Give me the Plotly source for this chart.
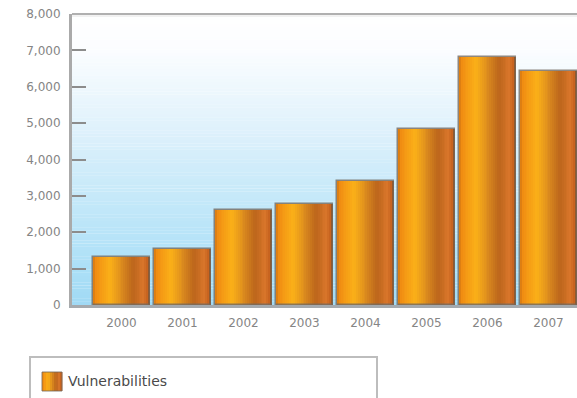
import plotly.graph_objects as go

# Data
years = ["2000", "2001", "2002", "2003", "2004", "2005", "2006", "2007"]
vulnerabilities = [1330, 1540, 2610, 2775, 3410, 4835, 6820, 6440]
y_ticks = [0, 1000, 2000, 3000, 4000, 5000, 6000, 7000, 8000]
y_tick_labels = ["0", "1,000", "2,000", "3,000", "4,000", "5,000", "6,000", "7,000", "8,000"]
series_name = "Vulnerabilities"

# Canvas / plot-area geometry (pixels)
W, H = 577, 398
PL, PR, PT, PB = 72, 577, 14, 305


def hex_rgb(h):
    h = h.lstrip("#")
    return tuple(int(h[i:i + 2], 16) for i in (0, 2, 4))


def lerp_color(stops, t):
    for (t0, c0), (t1, c1) in zip(stops, stops[1:]):
        if t0 <= t <= t1:
            f = 0 if t1 == t0 else (t - t0) / (t1 - t0)
            a, b = hex_rgb(c0), hex_rgb(c1)
            r = [round(a[i] + (b[i] - a[i]) * f) for i in range(3)]
            return "rgb(%d,%d,%d)" % tuple(r)
    return stops[-1][1]


# Horizontal metallic-orange gradient for the bars
bar_stops = [
    (0.00, "#d27612"), (0.04, "#f08c12"), (0.30, "#fbb018"),
    (0.50, "#dc8c1e"), (0.70, "#bc661c"), (0.88, "#d9762a"),
    (0.95, "#c86420"), (1.00, "#8a4610"),
]
# Vertical sky gradient for the plot background
bg_stops = [
    (0.0, "#a0d9f4"), (0.125, "#ace0f7"), (0.25, "#b9e4f8"), (0.375, "#c6e9f9"),
    (0.5, "#d3edfa"), (0.625, "#e1f2fc"), (0.75, "#eef8fd"), (0.875, "#fbfdff"),
    (1.0, "#ffffff"),
]

BAR_W = 0.935
N_STRIPS = 30
fig = go.Figure()
for i in range(N_STRIPS):
    t = (i + 0.5) / N_STRIPS
    fig.add_trace(go.Bar(
        x=years, y=vulnerabilities,
        width=[BAR_W / N_STRIPS + 0.002] * len(years),
        offset=[-BAR_W / 2 + i * BAR_W / N_STRIPS] * len(years),
        marker=dict(color=lerp_color(bar_stops, t), line=dict(width=0)),
        showlegend=False, hoverinfo="skip",
    ))
# Outline of each bar
fig.add_trace(go.Bar(
    x=years, y=vulnerabilities, width=[BAR_W] * len(years),
    marker=dict(color="rgba(0,0,0,0)", line=dict(color="rgba(115,105,95,0.8)", width=1.5)),
    name=series_name, showlegend=False,
))


def px_x(p):
    return (p - PL) / (PR - PL)


def px_y(p):
    return (PB - p) / (PB - PT)


shapes = []
# Background gradient strips
N_BG = 90
for i in range(N_BG):
    y0 = 8000 * i / N_BG
    y1 = 8000 * (i + 1) / N_BG
    shapes.append(dict(type="rect", xref="paper", yref="y", x0=0, x1=1, y0=y0, y1=y1 + 5,
                       fillcolor=lerp_color(bg_stops, (i + 0.5) / N_BG),
                       line=dict(width=0), layer="below"))
# Top frame line
shapes.append(dict(type="line", xref="paper", yref="paper", x0=0, x1=1, y0=1, y1=1,
                   line=dict(color="#b0b0b0", width=2)))
shapes.append(dict(type="line", xref="paper", yref="paper", x0=0, x1=1,
                   y0=px_y(PT + 2), y1=px_y(PT + 2), line=dict(color="#e4e4e4", width=1)))
# Legend box
shapes.append(dict(type="rect", xref="paper", yref="paper",
                   x0=px_x(30), x1=px_x(377), y0=px_y(357), y1=px_y(420),
                   fillcolor="white", line=dict(color="#bdbdbd", width=2)))
# Legend swatch
SW_L, SW_R, SW_T, SW_B = 42, 62, 372, 391
n_sw = 10
for i in range(n_sw):
    shapes.append(dict(type="rect", xref="paper", yref="paper",
                       x0=px_x(SW_L + (SW_R - SW_L) * i / n_sw),
                       x1=px_x(SW_L + (SW_R - SW_L) * (i + 1) / n_sw + 0.3),
                       y0=px_y(SW_B), y1=px_y(SW_T),
                       fillcolor=lerp_color(bar_stops, (i + 0.5) / n_sw), line=dict(width=0)))
shapes.append(dict(type="rect", xref="paper", yref="paper",
                   x0=px_x(SW_L), x1=px_x(SW_R), y0=px_y(SW_B), y1=px_y(SW_T),
                   line=dict(color="rgba(110,100,90,0.8)", width=1)))

annotations = [dict(
    text=series_name, xref="paper", yref="paper", x=px_x(66), y=px_y(381),
    xanchor="left", yanchor="middle", showarrow=False,
    font=dict(family="DejaVu Sans", size=14, color="#4a4a4a"),
)]

slot = 61.0
x_lo = -(121.4 - PL) / slot
x_hi = x_lo + (PR - PL) / slot

tick_font = dict(family="DejaVu Sans", size=12, color="#858585")

fig.update_layout(
    width=W, height=H,
    margin=dict(l=PL, r=W - PR, t=PT, b=H - PB),
    paper_bgcolor="white", plot_bgcolor="rgba(0,0,0,0)",
    barmode="overlay", bargap=0,
    shapes=shapes, annotations=annotations, showlegend=False,
    xaxis=dict(
        type="category", range=[x_lo, x_hi], showgrid=False, zeroline=False,
        showline=True, linecolor="rgba(135,140,145,0.75)", linewidth=3,
        ticks="", ticklabelstandoff=5, tickfont=tick_font,
    ),
    yaxis=dict(
        range=[0, 8000], tickvals=y_ticks, ticktext=y_tick_labels,
        showgrid=False, zeroline=False,
        showline=True, linecolor="#aaaaaa", linewidth=3,
        ticks="inside", ticklen=14, tickwidth=2, tickcolor="#8c8c8c",
        ticklabelstandoff=6, tickfont=tick_font,
    ),
)

fig.write_html("out.html")
